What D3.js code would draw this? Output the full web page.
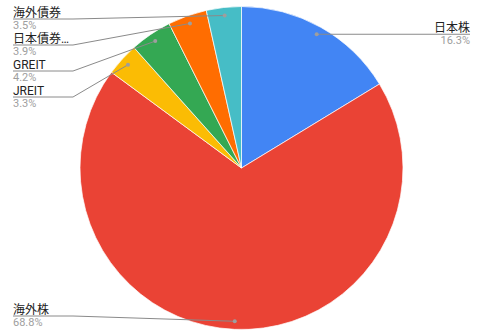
<!DOCTYPE html>
<html>
<head>
<meta charset="utf-8">
<script src="https://cdn.jsdelivr.net/npm/d3@7"></script>
<style>
    body { margin: 0; background: #fff; }
    text { font-family: Roboto, "Noto Sans CJK JP", sans-serif; }
</style>
</head>
<body>
<svg id="SVG_CONTAINER" width="480" height="336"></svg>
<script>
// slice data, clockwise from 12 o'clock
const categories = ["日本株", "海外株", "JREIT", "GREIT", "日本債券…", "海外債券"];
const values     = [16.3, 68.8, 3.3, 4.2, 3.9, 3.5];
const colours    = ["#4285F4", "#EA4335", "#FBBC04", "#34A853", "#FF6D01", "#46BDC6"];

const width = 480, height = 336;
const cx = 241.5, cy = 168, radius = 161.5;

let svg = d3.select("#SVG_CONTAINER");

let pie = d3.pie().sort(null).value(d => d.value);
let arc = d3.arc().innerRadius(0).outerRadius(radius);
let dotArc = d3.arc().innerRadius(radius * 0.95).outerRadius(radius * 0.95);

let data = categories.map((c, i) => ({name: c, value: values[i], colour: colours[i]}));
let arcs = pie(data);

let chart = svg.append("g").attr("transform", "translate(" + cx + "," + cy + ")");

chart.selectAll("path")
    .data(arcs)
    .enter()
    .append("path")
    .attr("d", arc)
    .style("fill", d => d.data.colour)
    .style("stroke", "#fff")
    .style("stroke-width", 0.7);

//** LABELS *****************************************
let labels = arcs.map(d => {
    let p = dotArc.centroid(d);
    let mid = (d.startAngle + d.endAngle) / 2;
    return {d: d, x: p[0] + cx, y: p[1] + cy, left: mid > Math.PI};
});

// left side labels stack downward from top
let leftLabels = labels.filter(l => l.left).sort((a, b) => a.y - b.y);
let prev = -7;
leftLabels.forEach(l => {
    l.ly = Math.min(Math.max(l.y, prev + 26), height - 20);
    prev = l.ly;
});
labels.filter(l => !l.left).forEach(l => { l.ly = l.y; });

let textX = 13, elbowX = 73, rightX = 470;

labels.forEach(l => {
    let pts;
    if (l.left) pts = [[textX, l.ly], [elbowX, l.ly], [l.x, l.y]];
    else pts = [[l.x, l.y], [rightX, l.ly]];

    svg.append("path")
        .attr("d", d3.line()(pts))
        .style("fill", "none")
        .style("stroke", "#8a8a8a")
        .style("stroke-width", 1);

    svg.append("circle")
        .attr("cx", l.x)
        .attr("cy", l.y)
        .attr("r", 2)
        .style("fill", "#9e9e9e");

    let tx = l.left ? textX : rightX;
    let anchor = l.left ? "start" : "end";
    svg.append("text")
        .attr("x", tx)
        .attr("y", l.ly - 2.5)
        .attr("text-anchor", anchor)
        .style("font-size", "12px")
        .style("fill", "#222")
        .text(l.d.data.name);
    svg.append("text")
        .attr("x", tx)
        .attr("y", l.ly + 9.5)
        .attr("text-anchor", anchor)
        .style("font-size", "11px")
        .style("fill", "#9e9e9e")
        .text(d3.format(".1f")(l.d.data.value) + "%");
});
</script>
</body>
</html>
